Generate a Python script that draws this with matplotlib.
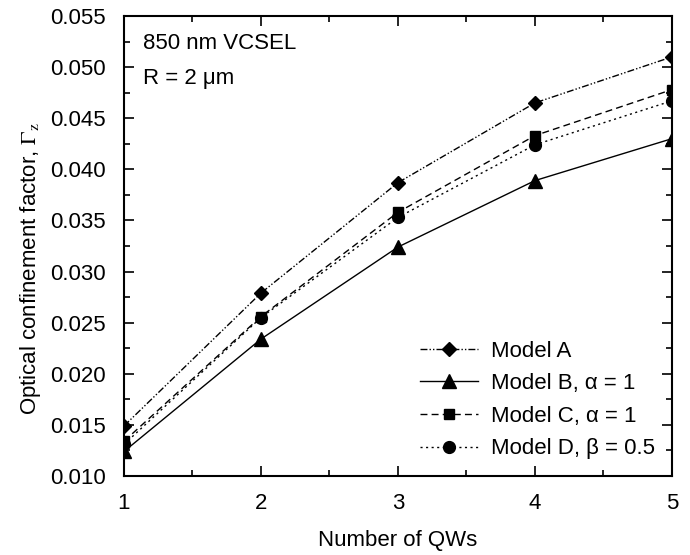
import matplotlib
matplotlib.use("Agg")
import matplotlib.pyplot as plt
from matplotlib.ticker import MultipleLocator

plt.rcParams['font.family'] = ['Liberation Sans', 'DejaVu Sans']
plt.rcParams['mathtext.fontset'] = 'stix'

qws = [1, 2, 3, 4, 5]
model_a = [0.0149, 0.0279, 0.0387, 0.0465, 0.0510]
model_b = [0.0124, 0.0234, 0.0324, 0.0389, 0.0430]
model_c = [0.0134, 0.0256, 0.0358, 0.0433, 0.0478]
model_d = [0.0131, 0.0255, 0.0353, 0.0424, 0.0467]
labels = ['Model A', 'Model B, α = 1', 'Model C, α = 1', 'Model D, β = 0.5']

FS = 16

fig = plt.figure(figsize=(6.9, 5.55), dpi=100)
ax = fig.add_axes([0.1797, 0.1423, 0.7942, 0.8289])

ax.plot(qws, model_a, color='black', lw=1.0, ls=(0, (5, 1.5, 1, 1.5, 1, 1.5)),
        marker='D', ms=7.5, label=labels[0])
ax.plot(qws, model_b, color='black', lw=1.0, ls='-',
        marker='^', ms=9.5, label=labels[1])
ax.plot(qws, model_c, color='black', lw=1.0, ls=(0, (5, 3)),
        marker='s', ms=7.5, label=labels[2])
ax.plot(qws, model_d, color='black', lw=1.0, ls=(0, (1.5, 2.5)),
        marker='o', ms=8.5, label=labels[3])

ax.set_xlim(1, 5)
ax.set_ylim(0.010, 0.055)
ax.xaxis.set_major_locator(MultipleLocator(1))
ax.xaxis.set_minor_locator(MultipleLocator(0.5))
ax.yaxis.set_major_locator(MultipleLocator(0.005))
ax.yaxis.set_minor_locator(MultipleLocator(0.0025))
ax.yaxis.set_major_formatter(matplotlib.ticker.FormatStrFormatter('%.3f'))
ax.tick_params(which='both', direction='in', top=True, right=True,
               labelsize=FS, width=1.2, color='black')
ax.tick_params(which='major', length=7)
ax.tick_params(which='minor', length=4)
ax.tick_params(axis='x', which='major', pad=12)
ax.tick_params(axis='y', which='major', pad=13)
for s in ax.spines.values():
    s.set_linewidth(1.5)

ax.set_xlabel('Number of QWs', fontsize=FS, labelpad=12)
ax.set_ylabel(r'Optical confinement factor, $\Gamma_\mathrm{z}$', fontsize=FS, labelpad=5)
ax.yaxis.label.set_y(0.45)

ax.text(0.035, 0.94, '850 nm VCSEL', transform=ax.transAxes, fontsize=FS, va='center')
ax.text(0.035, 0.865, 'R = 2 μm', transform=ax.transAxes, fontsize=FS, va='center')

ax.legend(loc='lower right', frameon=False, fontsize=FS, handlelength=2.6,
          handletextpad=0.6, labelspacing=0.52, borderaxespad=0.35)

fig.savefig('out.png', dpi=100)
